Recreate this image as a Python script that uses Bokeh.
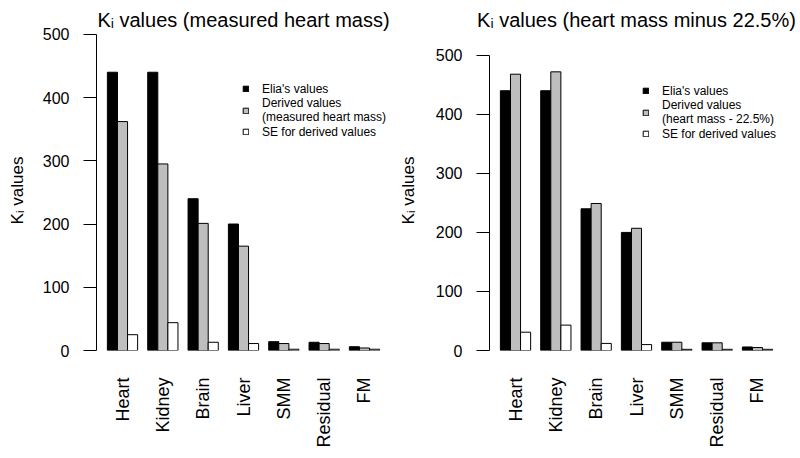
import math
from bokeh.plotting import figure
from bokeh.models import (ColumnDataSource, Range1d, FixedTicker, Legend, LegendItem)
from bokeh.layouts import row
from bokeh.embed import file_html
from bokeh.resources import INLINE

# ---- data ----
tissues = ["Heart", "Kidney", "Brain", "Liver", "SMM", "Residual", "FM"]
elia_values = [440, 440, 240, 200, 14, 13, 6]
derived_measured = [362, 295, 201, 165, 11, 11, 4]
se_measured = [25, 44, 13, 11, 2, 2, 2]
derived_minus = [468, 472, 249, 207, 14, 13, 5]
se_minus = [31, 43, 12, 10, 2, 2, 2]
y_ticks = [0, 100, 200, 300, 400, 500]

FONT = "Liberation Sans"
colors = ["#000000", "#BEBEBE", "#FFFFFF"]


def panel(title, series, labels, y_end, width, left_border, right_border,
          legend_loc, label_standoff):
    n = len(tissues)
    p = figure(width=width, height=452, output_backend="svg", toolbar_location=None,
               x_range=Range1d(-0.08, 4 * n + 1.08), y_range=Range1d(0, y_end),
               min_border_left=left_border, min_border_right=right_border,
               min_border_top=30, min_border_bottom=102)
    p.outline_line_color = None
    p.grid.visible = False
    p.background_fill_color = "white"
    p.border_fill_color = "white"

    items = []
    for j, (vals, col, lab) in enumerate(zip(series, colors, labels)):
        xs = [1 + 4 * g + j + 0.5 for g in range(n)]
        src = ColumnDataSource(dict(x=xs, top=vals))
        r = p.vbar(x="x", top="top", bottom=0, width=1, source=src,
                   fill_color=col, line_color="black", line_width=1)
        items.append(LegendItem(label=lab, renderers=[r]))

    leg = Legend(items=items, location=legend_loc, border_line_color=None,
                 background_fill_alpha=0, padding=0, margin=0, spacing=0,
                 glyph_width=7, glyph_height=7, label_standoff=13,
                 label_text_font=FONT, label_text_font_size="12px",
                 label_text_color="black", label_height=15)
    p.add_layout(leg)

    # title
    p.title.text = title
    p.title.text_font = FONT
    p.title.text_font_size = "20px"
    p.title.text_font_style = "normal"
    p.title.text_color = "black"
    p.title.align = "center"
    p.title.standoff = 0

    # y axis
    ya = p.yaxis[0]
    ya.ticker = FixedTicker(ticks=y_ticks)
    ya.bounds = (y_ticks[0], y_ticks[-1])
    ya.major_tick_out = 13
    ya.major_tick_in = 0
    ya.minor_tick_out = 0
    ya.minor_tick_in = 0
    ya.major_label_standoff = 14
    ya.major_label_text_font = FONT
    ya.major_label_text_font_size = "16px"
    ya.major_label_text_color = "black"
    ya.axis_line_color = "black"
    ya.major_tick_line_color = "black"
    ya.axis_label = "K\u1d62 values"
    ya.axis_label_text_font = FONT
    ya.axis_label_text_font_size = "17px"
    ya.axis_label_text_font_style = "normal"
    ya.axis_label_text_color = "black"
    ya.axis_label_standoff = label_standoff

    # x axis
    xa = p.xaxis[0]
    centers = [1 + 4 * g + 1.5 for g in range(n)]
    xa.ticker = FixedTicker(ticks=centers)
    xa.major_label_overrides = {c: t for c, t in zip(centers, tissues)}
    xa.major_label_orientation = math.pi / 2
    xa.axis_line_color = None
    xa.major_tick_line_color = None
    xa.minor_tick_line_color = None
    xa.major_tick_out = 0
    xa.major_tick_in = 0
    xa.major_label_standoff = 27
    xa.major_label_text_font = FONT
    xa.major_label_text_font_size = "18px"
    xa.major_label_text_color = "black"
    return p


p1 = panel("K\u1d62 values (measured heart mass)",
           [elia_values, derived_measured, se_measured],
           ["Elia's values", "Derived values\n(measured heart mass)", "SE for derived values"],
           506, 394, 96, 4, (146, 211), 13)
p2 = panel("K\u1d62 values (heart mass minus 22.5%)",
           [elia_values, derived_minus, se_minus],
           ["Elia's values", "Derived values\n(heart mass - 22.5%)", "SE for derived values"],
           542, 406, 95, 17, (153, 209), 15)

layout = row(p1, p2, spacing=0)
open("out.html", "w").write(file_html(layout, INLINE))
